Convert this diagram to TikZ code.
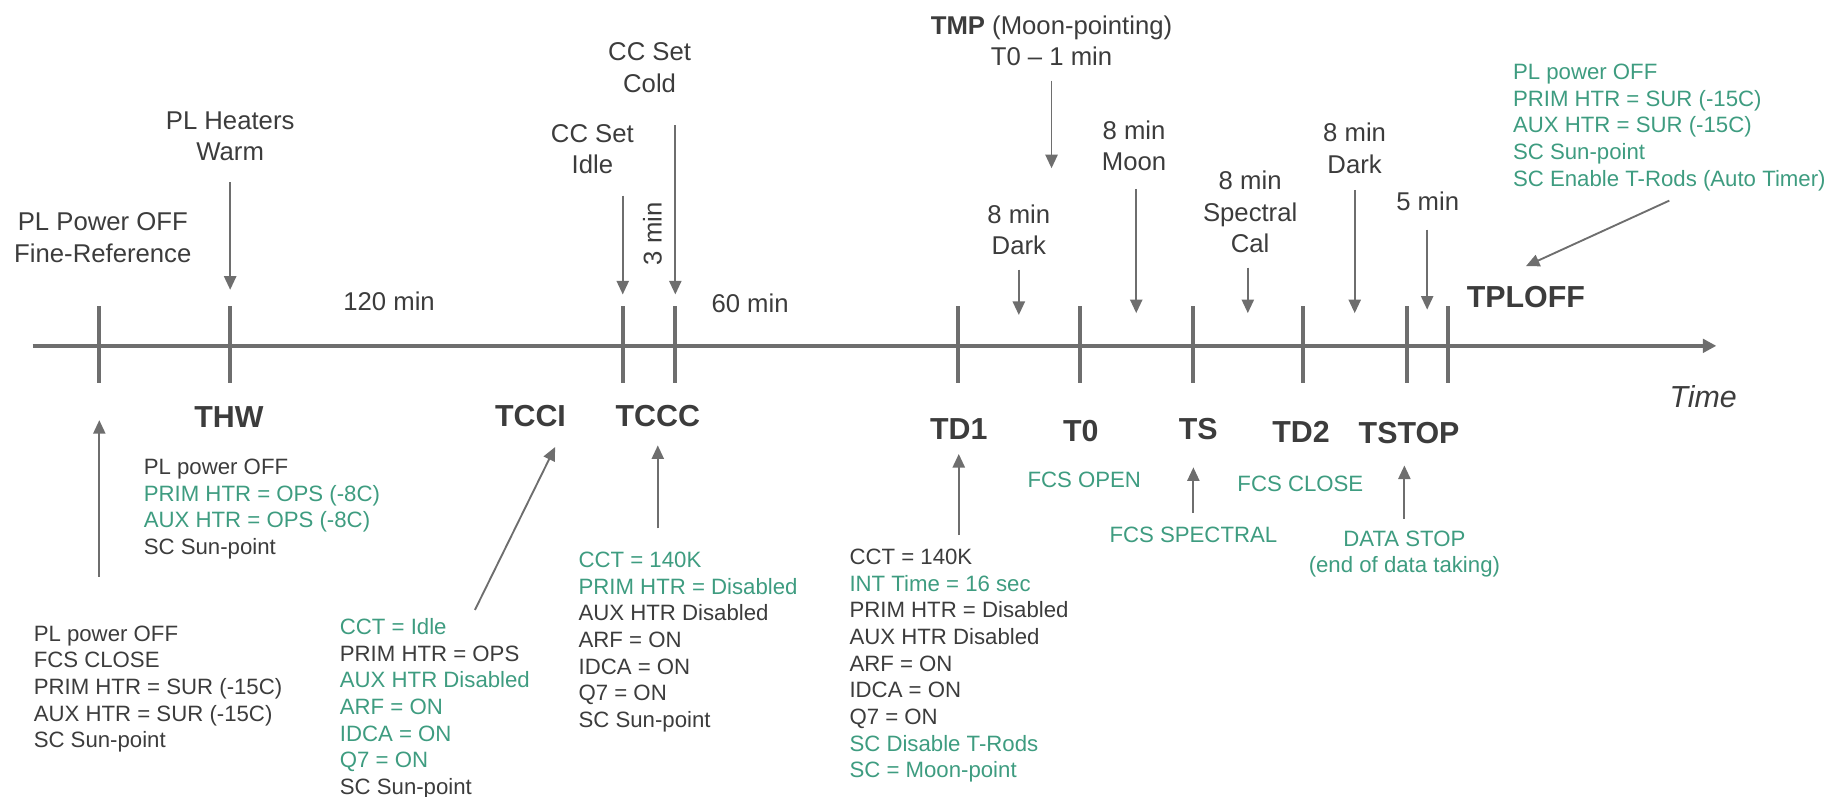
\documentclass[tikz,border=0pt]{standalone}
\usepackage{fontspec}
\setmainfont{Liberation Sans}
\usetikzlibrary{arrows.meta,calc}
\definecolor{ink}{HTML}{3C3C3C}
\definecolor{grn}{HTML}{3E9C80}
\definecolor{ln}{HTML}{6E6E6E}

\begin{document}
\begin{tikzpicture}[x=0.5pt, y=-0.5pt, text=ink,
  lbl/.style={font=\fontsize{11}{13.5}\selectfont, align=center, inner sep=0pt},
  blk/.style={font=\fontsize{9.5}{11.4}\selectfont, align=left, inner sep=0pt, anchor=north west},
  big/.style={font=\fontsize{13}{15}\selectfont\bfseries, inner sep=0pt},
  arr/.style={draw=ln, line width=0.8pt, -{Triangle[width=5.2pt,length=5.8pt]}},
  tick/.style={draw=ln, line width=1.7pt}]

  \useasboundingbox (0,0) rectangle (1568,682);

  % time axis and ticks
  \coordinate (t-start) at (28,296);
  \coordinate (t-end) at (1469,296);
  \draw[ln, line width=1.7pt, -{Triangle[width=5.8pt,length=5.8pt]}] (t-start) -- (t-end);
  \foreach \n/\x in {ref/85, hw/197, cci/533, ccc/578, dk1/820, t0/924, ts/1021, dk2/1115, stp/1204, off/1239} {
    \coordinate (k\n) at (\x,296);
    \draw[tick] ([yshift=17pt]k\n) -- ([yshift=-16pt]k\n);
  }
  \coordinate (m1) at ($(kdk1)!0.5!(kt0)$);
  \coordinate (m2) at ($(kt0)!0.5!(kts)$);
  \coordinate (m3) at ($(kts)!0.5!(kdk2)$);
  \coordinate (m4) at ($(kdk2)!0.5!(kstp)$);
  \coordinate (m5) at ($(kstp)!0.5!(koff)$);

  % labels above the axis
  \node[lbl, anchor=north] (pwroff) at (88,181.8) {PL Power OFF\\Fine-Reference};
  \node[lbl, anchor=north] (warm) at (197,95) {PL Heaters\\Warm};
  \node[lbl] (g120) at (333,258) {120 min};
  \node[lbl, anchor=north] (ccidle) at (507,106) {CC Set\\Idle};
  \node[lbl, anchor=north] (cccold) at (556,36) {CC Set\\Cold};
  \node[lbl, rotate=90] (g3) at (558.5,200) {3 min};
  \node[lbl] (g60) at (642,260) {60 min};
  \node[lbl, anchor=north] (tmp) at (900,13) {\textbf{TMP} (Moon-pointing)\\T0 – 1 min};
  \node[lbl, anchor=north] (dark1) at (872,174.7) {8 min\\Dark};
  \node[lbl, anchor=north] (moon) at (970.6,103) {8 min\\Moon};
  \node[lbl, anchor=north] (spec) at (1070,146) {8 min\\Spectral\\Cal};
  \node[lbl, anchor=north] (dark2) at (1159.4,105) {8 min\\Dark};
  \node[lbl] (g5) at (1222,172.6) {5 min};
  \node[blk, text=grn] (offblk) at (1294.6,54.5)
    {PL power OFF\\PRIM HTR = SUR (-15C)\\AUX HTR = SUR (-15C)\\SC Sun-point\\SC Enable T-Rods (Auto Timer)};

  % event names
  \node[big] (thw) at (196,357) {THW};
  \node[big] (tcci) at (454,356) {TCCI};
  \node[big] (tccc) at (563,356) {TCCC};
  \node[big] (td1) at (820.6,367) {TD1};
  \node[big] (t0) at (925,368.6) {T0};
  \node[big] (ts) at (1025.6,367) {TS};
  \node[big] (td2) at (1113.6,370) {TD2};
  \node[big] (tstop) at (1206,371) {TSTOP};
  \node[big] (tploff) at (1306,254) {TPLOFF};
  \node[font=\fontsize{13}{15}\selectfont\itshape, inner sep=0pt] (time) at (1457.7,339.5) {Time};

  % settings below the axis
  \node[blk] (refblk) at (28.5,535.2)
    {PL power OFF\\FCS CLOSE\\PRIM HTR = SUR (-15C)\\AUX HTR = SUR (-15C)\\SC Sun-point};
  \node[blk] (hwblk) at (122.7,392.6)
    {PL power OFF\\\textcolor{grn}{PRIM HTR = OPS (-8C)}\\\textcolor{grn}{AUX HTR = OPS (-8C)}\\SC Sun-point};
  \node[blk] (cciblk) at (290.5,529)
    {\textcolor{grn}{CCT = Idle}\\PRIM HTR = OPS\\\textcolor{grn}{AUX HTR Disabled}\\\textcolor{grn}{ARF = ON}\\
     \textcolor{grn}{IDCA = ON}\\\textcolor{grn}{Q7 = ON}\\SC Sun-point};
  \node[blk] (cccblk) at (494.8,472.2)
    {\textcolor{grn}{CCT = 140K}\\\textcolor{grn}{PRIM HTR = Disabled}\\AUX HTR Disabled\\ARF = ON\\IDCA = ON\\Q7 = ON\\SC Sun-point};
  \node[blk] (td1blk) at (726.7,469.6)
    {CCT = 140K\\\textcolor{grn}{INT Time = 16 sec}\\PRIM HTR = Disabled\\AUX HTR Disabled\\ARF = ON\\IDCA = ON\\Q7 = ON\\
     \textcolor{grn}{SC Disable T-Rods}\\\textcolor{grn}{SC = Moon-point}};
  \node[blk, anchor=center, text=grn] (fcsopen) at (928,411) {FCS OPEN};
  \node[blk, anchor=center, text=grn] (fcsspec) at (1021.4,458) {FCS SPECTRAL};
  \node[blk, anchor=center, text=grn] (fcsclose) at (1113,414) {FCS CLOSE};
  \node[blk, anchor=north, align=center, text=grn] (datastop) at (1202,453.8) {DATA STOP\\(end of data taking)};

  % arrows from above
  \draw[arr, shorten <=9pt, shorten >=24pt] (warm.south) -- (khw);
  \draw[arr, shorten <=9pt, shorten >=22pt] (ccidle.south -| kcci) -- (kcci);
  \draw[arr, shorten <=14pt, shorten >=22pt] (cccold.south -| kccc) -- (kccc);
  \draw[arr, shorten <=6pt, shorten >=76pt] (tmp.south) -- (tmp.south |- kt0);
  \draw[arr, shorten <=6pt, shorten >=13.2pt] (dark1.south -| m1) -- (m1);
  \draw[arr, shorten <=7.3pt, shorten >=14pt] (moon.south -| m2) -- (m2);
  \draw[arr, shorten <=6pt, shorten >=14pt] (spec.south -| m3) -- (m3);
  \draw[arr, shorten <=6.8pt, shorten >=14pt] (dark2.south -| m4) -- (m4);
  \draw[arr, shorten <=7.7pt, shorten >=15.5pt] (g5.south -| m5) -- (m5);
  \draw[arr] ([yshift=-4pt]offblk.south) -- ([yshift=8.3pt]tploff.north);

  % arrows from below
  \draw[arr, shorten <=20.8pt, shorten >=31.8pt] (refblk.north -| kref) -- (kref);
  \draw[arr] ([xshift=58pt,yshift=3.5pt]cciblk.north west) -- ([xshift=-4.8pt,yshift=-8.5pt]tcci.south east);
  \draw[arr, shorten <=10pt, shorten >=7.8pt] (cccblk.north -| tccc.south) -- (tccc.south);
  \draw[arr, shorten <=5.8pt, shorten >=6.1pt] (td1blk.north -| td1.south) -- (td1.south);
  \draw[arr, shorten <=6pt, shorten >=11.7pt] (fcsspec.north) -- (fcsspec.north |- ts.south);
  \draw[arr, shorten <=5pt, shorten >=8.9pt] (datastop.north) -- (datastop.north |- tstop.south);

\end{tikzpicture}
\end{document}
